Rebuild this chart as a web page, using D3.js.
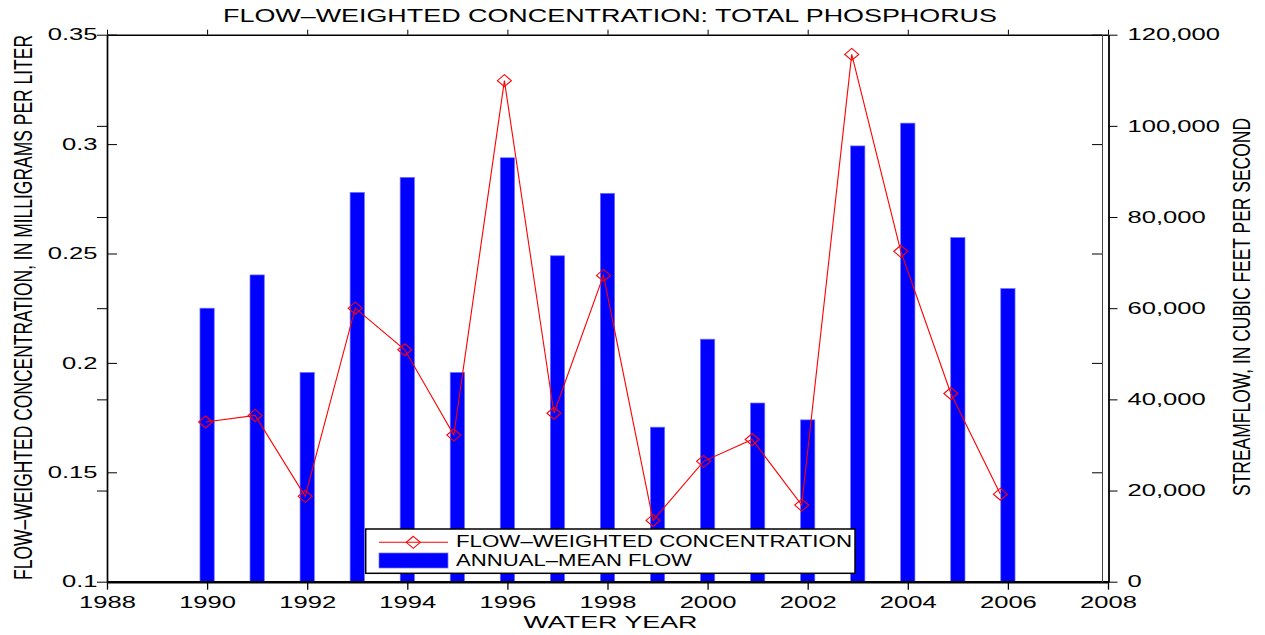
<!DOCTYPE html>
<html>
<head>
<meta charset="utf-8">
<script src="https://cdn.jsdelivr.net/npm/d3@7"></script>
<style>
  body { margin: 0; background: #fff; }
  text { font-family: "Liberation Sans", Arial, Helvetica, sans-serif; fill: #000; }
</style>
</head>
<body>
<div id="chart"></div>
<script>

/**
* DATA
* */
const years = [1990, 1991, 1992, 1993, 1994, 1995, 1996, 1997, 1998,
               1999, 2000, 2001, 2002, 2003, 2004, 2005, 2006];

// annual-mean flow, cubic feet per second
const flow = [60000, 67300, 45900, 85400, 88700, 45900, 93000, 71500, 85200,
              33900, 53200, 39200, 35500, 95600, 100600, 75500, 64300];

// flow-weighted concentration, mg/L (plotted a little before each year mark)
const concYears = [1989.97, 1990.96, 1991.96, 1992.96, 1993.95, 1994.93, 1995.94, 1996.93, 1997.92,
                   1998.91, 1999.92, 2000.89, 2001.88, 2002.88, 2003.86, 2004.86, 2005.85];
const conc = [0.173, 0.176, 0.139, 0.225, 0.206, 0.167, 0.329, 0.177, 0.240,
              0.128, 0.155, 0.165, 0.135, 0.341, 0.251, 0.186, 0.140];

const xTicks = [1988, 1990, 1992, 1994, 1996, 1998, 2000, 2002, 2004, 2006, 2008];
const leftTicks = [0.1, 0.15, 0.2, 0.25, 0.3, 0.35];
const rightTicks = [0, 20000, 40000, 60000, 80000, 100000, 120000];

const titleText = "FLOW\u2013WEIGHTED CONCENTRATION: TOTAL PHOSPHORUS";
const xLabel = "WATER YEAR";
const yLeftLabel = "FLOW\u2013WEIGHTED CONCENTRATION, IN MILLIGRAMS PER LITER";
const yRightLabel = "STREAMFLOW, IN CUBIC FEET PER SECOND";
const legendLabels = ["FLOW\u2013WEIGHTED CONCENTRATION", "ANNUAL\u2013MEAN FLOW"];

/**
* CONSTANTS
* */
const width = 1265, height = 635;
const plotLeft = 107, plotRight = 1108, plotTop = 34.7, plotBottom = 581.7;
const barWidth = 0.285;   // in years
const stretch = 1.55;     // the original figure is stretched sideways

const svg = d3.select("#chart")
  .append("svg")
  .attr("width", width)
  .attr("height", height);

const x = d3.scaleLinear().domain([1988, 2008]).range([plotLeft, plotRight]);
const yL = d3.scaleLinear().domain([0.1, 0.35]).range([plotBottom, plotTop]);
const yR = d3.scaleLinear().domain([0, 120000]).range([plotBottom, plotTop]);

// widen a text selection by a factor, or to a fixed width
function widen(sel, k, target) {
  sel.each(function() {
    const w = target || this.getComputedTextLength() * k;
    d3.select(this).attr("textLength", w).attr("lengthAdjust", "spacingAndGlyphs");
  });
}

/**
* BARS
* */
svg.append("g")
  .selectAll("rect")
  .data(years)
  .join("rect")
  .attr("x", d => x(d - barWidth / 2))
  .attr("width", d => x(d + barWidth / 2) - x(d - barWidth / 2))
  .attr("y", (d, i) => yR(flow[i]))
  .attr("height", (d, i) => yR(0) - yR(flow[i]))
  .attr("fill", "#0000ff")
  .attr("stroke", "#7070ff")
  .attr("stroke-width", 0.7);

/**
* CONCENTRATION LINE
* */
const line = d3.line()
  .x((d, i) => x(concYears[i]))
  .y(d => yL(d));

svg.append("path")
  .datum(conc)
  .attr("d", line)
  .attr("fill", "none")
  .attr("stroke", "#ff0000")
  .attr("stroke-width", 1.1);

const diamond = "M0,-6L7,0L0,6L-7,0Z";

svg.append("g")
  .selectAll("path")
  .data(conc)
  .join("path")
  .attr("d", diamond)
  .attr("transform", (d, i) => `translate(${x(concYears[i])},${yL(d)})`)
  .attr("fill", "none")
  .attr("stroke", "#ff0000")
  .attr("stroke-width", 1.1);

/**
* AXES
* */
// bottom
const gBottom = svg.append("g")
  .attr("transform", `translate(0,${plotBottom})`)
  .call(d3.axisBottom(x).tickValues(xTicks).tickSize(8).tickSizeOuter(0)
    .tickPadding(6.5).tickFormat(d3.format("d")));
gBottom.select(".domain").attr("stroke-width", 2.6);
gBottom.selectAll(".tick line").attr("stroke-width", 1.3);
gBottom.selectAll("text").attr("font-size", 16.5).call(widen, stretch);

// top
const gTop = svg.append("g")
  .attr("transform", `translate(0,${plotTop})`)
  .call(d3.axisTop(x).tickValues(xTicks).tickSize(5).tickSizeOuter(0).tickFormat(""));
gTop.select(".domain").attr("stroke-width", 1.5);

// left: inward ticks for concentration, outward ticks at the flow ticks
const gLeft = svg.append("g")
  .attr("transform", `translate(${plotLeft},0)`)
  .call(d3.axisLeft(yL).tickValues(leftTicks).tickSize(-10).tickSizeOuter(0)
    .tickPadding(9.5).tickFormat(d3.format("")));
gLeft.select(".domain").attr("stroke-width", 1.7);
gLeft.selectAll("text").attr("font-size", 16.5).call(widen, stretch);

svg.append("g")
  .attr("transform", `translate(${plotLeft},0)`)
  .call(d3.axisLeft(yR).tickValues(rightTicks).tickSize(10).tickSizeOuter(0).tickFormat(""))
  .select(".domain").remove();

// right frame of the concentration axes
const gFrame = svg.append("g")
  .attr("transform", `translate(1102,0)`)
  .call(d3.axisRight(yL).tickValues(leftTicks).tickSize(-10).tickSizeOuter(0).tickFormat(""));

// right: streamflow
const gRight = svg.append("g")
  .attr("transform", `translate(${plotRight + 0.5},0)`)
  .call(d3.axisRight(yR).tickValues(rightTicks).tickSize(9).tickSizeOuter(0)
    .tickPadding(10).tickFormat(d3.format(",")));
gRight.select(".domain").attr("stroke-width", 1.8);
gRight.selectAll("text").attr("font-size", 16.5).call(widen, stretch);

svg.selectAll(".tick text").attr("fill", "#000");
svg.selectAll(".tick line, .domain").attr("stroke", "#000");
gFrame.select(".domain").attr("stroke", "#444").attr("stroke-width", 1);

/**
* TITLES
* */
svg.append("text")
  .attr("x", 610).attr("y", 21.7)
  .attr("text-anchor", "middle")
  .attr("font-size", 17.7)
  .text(titleText)
  .call(widen, 1, 774);

svg.append("text")
  .attr("x", 610.5).attr("y", 628.3)
  .attr("text-anchor", "middle")
  .attr("font-size", 17)
  .text(xLabel)
  .call(widen, 1, 174);

svg.append("text")
  .attr("transform", `translate(32.3,307.5) scale(1.5,1) rotate(-90)`)
  .attr("text-anchor", "middle")
  .attr("font-size", 17.7)
  .text(yLeftLabel)
  .call(widen, 1, 545);

svg.append("text")
  .attr("transform", `translate(1250,307) scale(1.5,1) rotate(-90)`)
  .attr("text-anchor", "middle")
  .attr("font-size", 16)
  .text(yRightLabel)
  .call(widen, 1, 378);

/**
* LEGEND
* */
const legend = svg.append("g");

legend.append("rect")
  .attr("x", 365.7).attr("y", 529)
  .attr("width", 489.3).attr("height", 44.3)
  .attr("fill", "#fff")
  .attr("stroke", "#000")
  .attr("stroke-width", 1.5);

legend.append("line")
  .attr("x1", 379).attr("x2", 448)
  .attr("y1", 542.3).attr("y2", 542.3)
  .attr("stroke", "#ff0000")
  .attr("stroke-width", 1.1);

legend.append("path")
  .attr("d", diamond)
  .attr("transform", "translate(413.3,542.3)")
  .attr("fill", "none")
  .attr("stroke", "#ff0000")
  .attr("stroke-width", 1.1);

legend.append("rect")
  .attr("x", 379).attr("y", 553)
  .attr("width", 69).attr("height", 15)
  .attr("fill", "#0000ff")
  .attr("stroke", "#7070ff")
  .attr("stroke-width", 0.7);

legend.selectAll("text.lab")
  .data(legendLabels)
  .join("text")
  .attr("class", "lab")
  .attr("x", 456)
  .attr("y", (d, i) => i === 0 ? 547.3 : 565.7)
  .attr("font-size", 17)
  .text(d => d)
  .each(function(d, i) {
    d3.select(this).call(widen, 1, i === 0 ? 396 : 236);
  });

</script>
</body>
</html>
